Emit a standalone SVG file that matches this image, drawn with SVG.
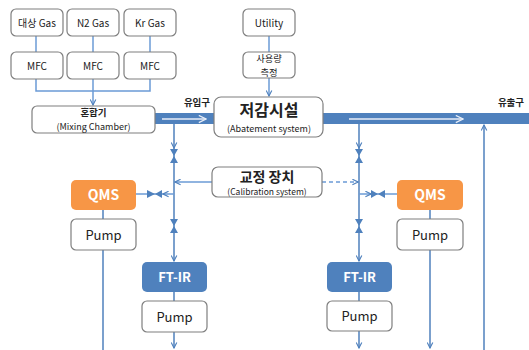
<svg xmlns="http://www.w3.org/2000/svg" width="529" height="350" viewBox="0 0 529 350">
<defs>
<style>
.box{fill:#fff;stroke:#7f7f7f;stroke-width:1.2}
.t{font-family:"Noto Sans CJK KR","Noto Sans",sans-serif;fill:#222;text-anchor:middle}
.w{font-family:"Noto Sans CJK KR","Noto Sans",sans-serif;fill:#fff;font-weight:bold;text-anchor:middle}
.ln{fill:none;stroke:#4f81bd;stroke-width:1.5}
.lt{fill:none;stroke:#6b9bd6;stroke-width:1.5}
.dash{fill:none;stroke:#6b9bd6;stroke-width:1.5;stroke-dasharray:4 3}
.v{fill:#4f81bd}
.band{fill:#4f81bd}
.inner{fill:none;stroke:#e8eef8;stroke-width:1.5}
</style>
<marker id="ch" viewBox="0 0 10 10" refX="9" refY="5" markerWidth="7" markerHeight="7" orient="auto" markerUnits="userSpaceOnUse">
<path d="M1,1 L9,5 L1,9" fill="none" stroke="#4f81bd" stroke-width="1.6"/>
</marker>
<marker id="chw" viewBox="0 0 10 10" refX="9" refY="5" markerWidth="9" markerHeight="9" orient="auto" markerUnits="userSpaceOnUse">
<path d="M1,1 L9,5 L1,9" fill="none" stroke="#e8eef8" stroke-width="1.4"/>
</marker>
</defs>

<g id="pipes">
<rect class="band" x="155" y="113" width="59" height="11"/>
<rect class="band" x="323" y="113" width="206" height="11"/>
<line class="inner" x1="162" y1="119" x2="206" y2="119" marker-end="url(#chw)"/>
<line class="inner" x1="349" y1="119" x2="463" y2="119" marker-end="url(#chw)"/>
</g>

<g id="connectors">
<line class="lt" x1="36" y1="36" x2="36" y2="52"/>
<line class="lt" x1="93" y1="36" x2="93" y2="52"/>
<line class="lt" x1="150" y1="36" x2="150" y2="52"/>
<polyline class="lt" points="36,79 36,91 150,91 150,79"/>
<line class="lt" x1="93" y1="79" x2="93" y2="105" marker-end="url(#ch)"/>
<line class="lt" x1="269" y1="36" x2="269" y2="52"/>
<line class="lt" x1="269" y1="78" x2="269" y2="96" marker-end="url(#ch)"/>
<line class="ln" x1="174" y1="124" x2="174" y2="148" marker-end="url(#ch)"/>
<line class="ln" x1="174" y1="148" x2="174" y2="261" marker-end="url(#ch)"/>
<path class="v" d="M170,149 L178,149 L174,156 Z M170,163 L178,163 L174,156 Z"/>
<path class="v" d="M170,219 L178,219 L174,226 Z M170,233 L178,233 L174,226 Z"/>
<line class="lt" x1="212" y1="182" x2="175" y2="182" marker-end="url(#ch)"/>
<line class="lt" x1="174" y1="194" x2="163" y2="194" marker-end="url(#ch)"/>
<line class="lt" x1="163" y1="194" x2="136" y2="194"/>
<path class="v" d="M147,190 L147,198 L155,194 Z M162,190 L162,198 L155,194 Z"/>
<line class="ln" x1="174" y1="292" x2="174" y2="301"/>
<line class="ln" x1="174" y1="332" x2="174" y2="348" marker-end="url(#ch)"/>
<line class="ln" x1="103" y1="210" x2="103" y2="219"/>
<line class="ln" x1="103" y1="250" x2="103" y2="350"/>
<line class="ln" x1="359" y1="124" x2="359" y2="148" marker-end="url(#ch)"/>
<line class="ln" x1="359" y1="148" x2="359" y2="261" marker-end="url(#ch)"/>
<path class="v" d="M355,149 L363,149 L359,156 Z M355,163 L363,163 L359,156 Z"/>
<path class="v" d="M355,219 L363,219 L359,226 Z M355,233 L363,233 L359,226 Z"/>
<line class="dash" x1="322" y1="182" x2="358" y2="182" marker-end="url(#ch)"/>
<line class="lt" x1="359" y1="194" x2="371" y2="194" marker-end="url(#ch)"/>
<line class="lt" x1="371" y1="194" x2="397" y2="194"/>
<path class="v" d="M371,190 L371,198 L378,194 Z M385,190 L385,198 L378,194 Z"/>
<line class="ln" x1="359" y1="292" x2="359" y2="301"/>
<line class="ln" x1="359" y1="331" x2="359" y2="348" marker-end="url(#ch)"/>
<line class="ln" x1="430" y1="210" x2="430" y2="219"/>
<line class="ln" x1="430" y1="250" x2="430" y2="348" marker-end="url(#ch)"/>
<line class="ln" x1="484" y1="350" x2="484" y2="125" marker-end="url(#ch)"/>
</g>

<g id="gas1"><rect class="box" x="11" y="9" width="52" height="27" rx="5"/><text class="t" x="37" y="27" font-size="10">대상 Gas</text></g>
<g id="gas2"><rect class="box" x="67" y="9" width="52" height="27" rx="5"/><text class="t" x="93" y="27" font-size="10">N2 Gas</text></g>
<g id="gas3"><rect class="box" x="124" y="9" width="52" height="27" rx="5"/><text class="t" x="150" y="27" font-size="10">Kr Gas</text></g>
<g id="mfc1"><rect class="box" x="11" y="52" width="52" height="27" rx="5"/><text class="t" x="37" y="70" font-size="10">MFC</text></g>
<g id="mfc2"><rect class="box" x="67" y="52" width="52" height="27" rx="5"/><text class="t" x="93" y="70" font-size="10">MFC</text></g>
<g id="mfc3"><rect class="box" x="124" y="52" width="52" height="27" rx="5"/><text class="t" x="150" y="70" font-size="10">MFC</text></g>
<g id="mixer"><rect class="box" x="32" y="106" width="123" height="27" rx="5"/><text class="t" x="93.5" y="116" font-size="9.5" font-weight="bold">혼합기</text><text class="t" x="93.5" y="130" font-size="9">(Mixing  Chamber)</text></g>
<g id="utility"><rect class="box" x="243" y="9" width="52" height="27" rx="5"/><text class="t" x="269" y="27" font-size="10">Utility</text></g>
<g id="meter"><rect class="box" x="243" y="52" width="52" height="26" rx="5"/><text class="t" x="269" y="62" font-size="9.3">사용량</text><text class="t" x="269" y="75.5" font-size="9.3">측정</text></g>
<g id="labels"><text class="t" x="197" y="106" font-size="9.5" font-weight="bold">유입구</text><text class="t" x="511" y="106" font-size="9.5" font-weight="bold">유출구</text></g>
<g id="abatement"><rect class="box" x="214" y="97" width="109" height="40" rx="7"/><text class="t" x="269" y="116" font-size="16" font-weight="bold">저감시설</text><text class="t" x="269" y="132" font-size="9">(Abatement system)</text></g>
<g id="calib"><rect class="box" x="212" y="167" width="110" height="30" rx="6"/><text class="t" x="267" y="182" font-size="14" font-weight="bold">교정 장치</text><text class="t" x="267" y="195" font-size="8.5">(Calibration  system)</text></g>
<g id="qms1"><rect x="71" y="180" width="65" height="30" rx="5" fill="#f79646"/><text class="w" x="103.5" y="200" font-size="14">QMS</text></g>
<g id="pump1"><rect class="box" x="71" y="219" width="65" height="31" rx="5"/><text class="t" x="103.5" y="240" font-size="13">Pump</text></g>
<g id="ftir1"><rect x="142" y="262" width="65" height="30" rx="5" fill="#4f81bd"/><text class="w" x="174.5" y="282" font-size="13">FT-IR</text></g>
<g id="pump2"><rect class="box" x="142" y="301" width="65" height="31" rx="5"/><text class="t" x="174.5" y="322" font-size="13">Pump</text></g>
<g id="qms2"><rect x="397" y="180" width="66" height="30" rx="5" fill="#f79646"/><text class="w" x="430" y="200" font-size="14">QMS</text></g>
<g id="pump3"><rect class="box" x="397" y="219" width="66" height="31" rx="5"/><text class="t" x="430" y="240" font-size="13">Pump</text></g>
<g id="ftir2"><rect x="327" y="262" width="65" height="30" rx="5" fill="#4f81bd"/><text class="w" x="359.5" y="282" font-size="13">FT-IR</text></g>
<g id="pump4"><rect class="box" x="327" y="301" width="65" height="30" rx="5"/><text class="t" x="359.5" y="321" font-size="13">Pump</text></g>
</svg>
